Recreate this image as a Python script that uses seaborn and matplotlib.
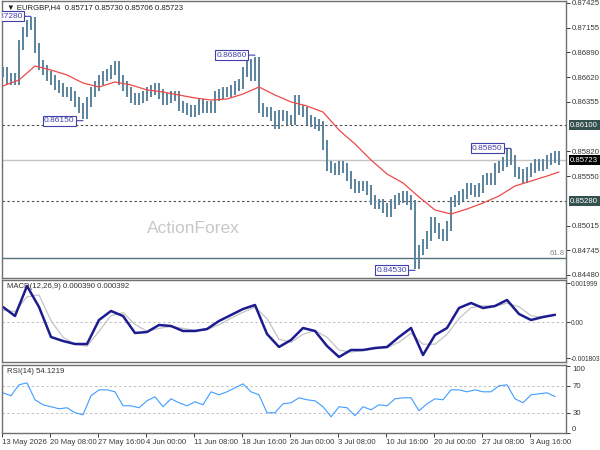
import numpy as np
import pandas as pd
import matplotlib
matplotlib.use("Agg")
import matplotlib.pyplot as plt
import matplotlib.transforms as mtransforms
import seaborn as sns

# ---------------- data ----------------
title_text = "\u25BC EURGBP,H4  0.85717 0.85730 0.85706 0.85723"
macd_title = "MACD(12,26,9) 0.000390 0.000392"
rsi_title = "RSI(14) 54.1219"
watermark = "ActionForex"

closes = [
    0.86677, 0.86591, 0.86612, 0.86591, 0.86970, 0.87111, 0.87186, 0.87219, 0.86937, 0.86753,
    0.86699, 0.86634, 0.86591, 0.86537, 0.86504, 0.86461, 0.86461, 0.86418, 0.86353, 0.86288,
    0.86223, 0.86353, 0.86461, 0.86526, 0.86591, 0.86634, 0.86656, 0.86699, 0.86742, 0.86591,
    0.86526, 0.86461, 0.86396, 0.86374, 0.86396, 0.86418, 0.86461, 0.86483, 0.86504, 0.86439,
    0.86374, 0.86396, 0.86418, 0.86418, 0.86309, 0.86288, 0.86266, 0.86244, 0.86266, 0.86331,
    0.86288, 0.86309, 0.86288, 0.86418, 0.86439, 0.86461, 0.86461, 0.86483, 0.86526, 0.86548,
    0.86677, 0.86764, 0.86634, 0.86786, 0.86288, 0.86244, 0.86244, 0.86201, 0.86114, 0.86212,
    0.86201, 0.86158, 0.86158, 0.86374, 0.86266, 0.86244, 0.86158, 0.86136, 0.86114, 0.86093,
    0.85887, 0.85660, 0.85638, 0.85616, 0.85660, 0.85638, 0.85551, 0.85465, 0.85422, 0.85443,
    0.85443, 0.85400, 0.85292, 0.85248, 0.85248, 0.85205, 0.85162, 0.85248, 0.85292, 0.85313,
    0.85335, 0.85292, 0.85237, 0.84600, 0.84750, 0.84815, 0.84902, 0.85053, 0.84988, 0.84924,
    0.84902, 0.85010, 0.85270, 0.85292, 0.85335, 0.85357, 0.85422, 0.85400, 0.85378, 0.85422,
    0.85508, 0.85530, 0.85508, 0.85638, 0.85660, 0.85703, 0.85790, 0.85725, 0.85595, 0.85573,
    0.85530, 0.85595, 0.85638, 0.85681, 0.85660, 0.85681, 0.85725, 0.85746, 0.85768, 0.85723,
]
bar_wick = 0.00055

ma_bars = list(range(0, 137, 4)) + [139]
ma_values = [
    0.86526, 0.86591, 0.86742, 0.86699, 0.86645, 0.86558, 0.86515, 0.86569, 0.86537, 0.86483,
    0.86461, 0.86428, 0.86396, 0.86374, 0.86385, 0.86439, 0.86515, 0.86428, 0.86353, 0.86309,
    0.86244, 0.86049, 0.85898, 0.85725, 0.85573, 0.85476, 0.85324, 0.85183, 0.85140, 0.85194,
    0.85259, 0.85335, 0.85443, 0.85497, 0.85551, 0.85595,
]

macd_bars = list(range(0, 139, 3))
macd_values = [
    0.000786, 0.000330, 0.001851, 0.000786, -0.000735, -0.000938, -0.001090, -0.001090, 0.000127, 0.000583,
    0.000330, -0.000532, -0.000482, -0.000127, -0.000177, -0.000431, -0.000431, -0.000330, 0.000076, 0.000380,
    0.000684, 0.000887, -0.000583, -0.001242, -0.000887, -0.000279, -0.000431, -0.001191, -0.001749, -0.001394,
    -0.001394, -0.001293, -0.001242, -0.000735, -0.000279, -0.001648, -0.000634, -0.000279, 0.000735, 0.000989,
    0.000735, 0.000837, 0.001141, 0.000431, 0.000127, 0.000279, 0.000390,
]
signal_values = [
    0.00063, 0.00055, 0.00130, 0.00140, 0.00010, -0.00075, -0.00110, -0.00120, -0.00045, 0.00035,
    0.00050, -0.00010, -0.00045, -0.00030, -0.00020, -0.00030, -0.00040, -0.00036, -0.00012, 0.00022,
    0.00052, 0.00078, 0.00020, -0.00085, -0.00100, -0.00060, -0.00040, -0.00075, -0.00140, -0.00150,
    -0.00142, -0.00133, -0.00128, -0.00100, -0.00055, -0.00110, -0.00110, -0.00060, 0.00020, 0.00075,
    0.00085, 0.00082, 0.00098, 0.00080, 0.00035, 0.00025, 0.000392,
]

rsi_bars = list(range(0, 140, 2))
rsi_values = [
    59.7, 55.3, 71.6, 74.5, 49.3, 41.9, 39.0, 36.0, 37.5, 30.1,
    27.1, 55.3, 64.1, 64.1, 61.2, 40.4, 40.4, 37.5, 47.9, 53.8,
    39.0, 50.8, 44.9, 40.4, 46.4, 41.9, 61.2, 56.7, 61.2, 67.1,
    73.0, 61.2, 56.7, 30.1, 30.1, 43.4, 44.9, 52.3, 49.3, 47.9,
    39.0, 24.1, 39.0, 37.5, 25.6, 39.0, 34.5, 41.9, 40.4, 50.8,
    52.3, 52.3, 33.0, 43.4, 50.8, 49.3, 64.1, 64.1, 61.2, 64.1,
    61.2, 61.2, 70.1, 71.6, 50.8, 44.9, 56.7, 58.2, 59.7, 54.12,
]

date_labels = ["13 May 2026", "20 May 08:00", "27 May 16:00", "4 Jun 00:00", "11 Jun 08:00",
               "18 Jun 16:00", "26 Jun 00:00", "3 Jul 08:00", "10 Jul 16:00", "20 Jul 00:00",
               "27 Jul 08:00", "3 Aug 16:00"]
bars_per_label = 12

price_ticks = [0.87425, 0.87155, 0.86890, 0.86620, 0.86355, 0.85820, 0.85550, 0.85015, 0.84745, 0.84480]
macd_ticks = [0.001999, 0.0, -0.001803]
macd_tick_labels = ["0.001999", "0.00", "-0.001803"]
rsi_ticks = [100, 70, 30, 0]

swing_bars = [7, 20, 63, 103, 127]
swing_prices = [0.87280, 0.86150, 0.86860, 0.84530, 0.85850]

dashed_levels = [0.86100, 0.85280]
current_price = 0.85723
fib_level = 0.84664
fib_label = "61.8"

# ---------------- style ----------------
sns.set_theme(style="white")
plt.rcParams["font.family"] = ["Liberation Sans", "DejaVu Sans"]
FS = 5.6
TXT = "#3a3a3a"
BAR_C = "#5a839c"
LABEL_C = "#4040aa"
FRAME_C = "#707070"

W, H = 600, 450
fig = plt.figure(figsize=(6, 4.5), dpi=100)
fig.patch.set_facecolor("white")


def rect(l, t, r, b):
    return [l / W, 1 - b / H, (r - l) / W, (b - t) / H]


ax = fig.add_axes(rect(2, 1, 566, 278))
axm = fig.add_axes(rect(2, 280, 566, 362), sharex=ax)
axr = fig.add_axes(rect(2, 365, 566, 433), sharex=ax)

for a in (ax, axm, axr):
    a.set_facecolor("white")
    for s in a.spines.values():
        s.set_color(FRAME_C)
        s.set_linewidth(1.0)
    a.yaxis.tick_right()
    a.tick_params(axis="y", which="both", right=True, left=False, length=3, width=0.7,
                  color=TXT, labelsize=FS, labelcolor=TXT, pad=1.5)
    a.grid(False)

# ---------------- main price panel ----------------
n = len(closes)
idx = np.arange(n)
c = np.array(closes)
o = np.concatenate([[c[0]], c[:-1]])
hi = np.maximum(o, c) + bar_wick
lo = np.minimum(o, c) - bar_wick
ax.vlines(idx, lo, hi, color=BAR_C, linewidth=1.4, zorder=3)

sns.lineplot(x=ma_bars, y=ma_values, ax=ax, color="#f04848", linewidth=0.9, zorder=4, legend=False)

for lv in dashed_levels:
    ax.axhline(lv, color="#505050", linewidth=0.8, linestyle=(0, (2.2, 2.2)), zorder=2)
ax.axhline(current_price, color="#c4c4c4", linewidth=1.0, zorder=1)
ax.axhline(fib_level, color="#56727e", linewidth=1.0, zorder=2)
ax.text(0.997, fib_level + 0.00012, fib_label,
        transform=mtransforms.blended_transform_factory(ax.transAxes, ax.transData),
        ha="right", va="bottom", fontsize=FS, color="#8a8a8a")

ax.set_xlim(-0.25, 140.75)
ax.set_ylim(0.84447, 0.87446)
ax.set_yticks(price_ticks)
ax.set_yticklabels([f"{v:.5f}" for v in price_ticks])
ax.tick_params(axis="x", bottom=False, labelbottom=False)

for b, p in zip(swing_bars, swing_prices):
    ann = ax.annotate(f"{p:.5f}", xy=(b, p), xytext=(-6, 0), textcoords="offset points",
                      ha="right", va="center", fontsize=FS + 0.4, color=LABEL_C,
                      bbox=dict(boxstyle="square,pad=0.18", fc="white", ec=LABEL_C, lw=0.8),
                      arrowprops=dict(arrowstyle="-", color=LABEL_C, lw=0.8, shrinkA=0, shrinkB=0),
                      zorder=6)
    ann.set_clip_on(True)
    ann.set_clip_box(ax.bbox)

blend = mtransforms.blended_transform_factory(ax.transAxes, ax.transData)
for val, fc in [(0.86100, "#34504f"), (current_price, "#000000"), (0.85280, "#34504f")]:
    ax.text(1.0075, val, f"{val:.5f}", transform=blend, ha="left", va="center", fontsize=FS,
            color="white", clip_on=False,
            bbox=dict(boxstyle="square,pad=0.2", fc=fc, ec="none"))

ax.text(0.008, 0.977, title_text, transform=ax.transAxes, ha="left", va="center",
        fontsize=FS, color="#202020", family=["Liberation Sans", "DejaVu Sans"])
ax.text(0.34, 0.177, watermark, transform=ax.transAxes, ha="center", va="center",
        fontsize=12.5, color="#c8c8c8")

# ---------------- MACD panel ----------------
sns.lineplot(x=macd_bars, y=signal_values, ax=axm, color="#c4c4c4", linewidth=0.9, legend=False)
sns.lineplot(x=macd_bars, y=macd_values, ax=axm, color="#1c1c90", linewidth=1.8, legend=False)
axm.axhline(0, color="#c0c0c0", linewidth=0.7, linestyle=(0, (2.5, 2.5)), zorder=0)
axm.set_ylim(-0.002003, 0.002155)
axm.set_yticks(macd_ticks)
axm.set_yticklabels(macd_tick_labels)
axm.tick_params(axis="y", labelsize=4.8, pad=0.6)
axm.tick_params(axis="x", bottom=False, labelbottom=False)
axm.text(0.008, 0.915, macd_title, transform=axm.transAxes, ha="left", va="center",
         fontsize=FS, color="#303030")

# ---------------- RSI panel ----------------
sns.lineplot(x=rsi_bars, y=rsi_values, ax=axr, color="#3f9dff", linewidth=0.8, legend=False)
for lv in (30, 70):
    axr.axhline(lv, color="#c0c0c0", linewidth=0.7, linestyle=(0, (2.5, 2.5)), zorder=0)
axr.set_ylim(0, 101)
axr.set_yticks(rsi_ticks)
axr.set_yticklabels([str(v) for v in rsi_ticks])
ylabs = axr.get_yticklabels()
ylabs[0].set_verticalalignment("top")
ylabs[-1].set_verticalalignment("bottom")
axr.text(0.008, 0.9, rsi_title, transform=axr.transAxes, ha="left", va="center",
         fontsize=FS, color="#303030")

axr.set_xticks([bars_per_label * k - 0.25 for k in range(len(date_labels))])
axr.set_xticklabels(date_labels)
axr.tick_params(axis="x", bottom=True, length=3, width=0.7, color=TXT, labelsize=FS,
                labelcolor=TXT, pad=1.5)
for lab in axr.get_xticklabels():
    lab.set_horizontalalignment("left")
axr.set_xlim(-0.25, 140.75)

for a in (ax, axm, axr):
    a.set_xlabel("")
    a.set_ylabel("")

fig.savefig("out.png", dpi=100, facecolor="white")
